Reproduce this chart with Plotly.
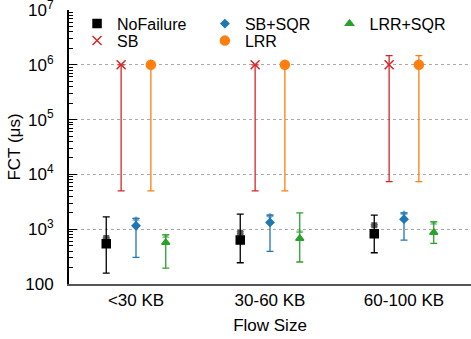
import plotly.graph_objects as go

categories = ["<30 KB", "30-60 KB", "60-100 KB"]
series_names = ["NoFailure", "SB", "SB+SQR", "LRR", "LRR+SQR"]

# median values (us)
nofailure_med = [542, 632, 824]
sb_med = [1.0e6, 1.0e6, 1.0e6]
sbsqr_med = [1153, 1330, 1527]
lrr_med = [1.0e6, 1.0e6, 1.0e6]
lrrsqr_med = [574, 679, 873]

# outer error bar low / high
nofailure_low = [158, 244, 372]
nofailure_high = [1683, 1884, 1807]
sb_low = [5000, 5000, 7400]
sb_high = [1.0e6, 1.0e6, 1.47e6]
sbsqr_low = [306, 394, 632]
sbsqr_high = [1573, 1807, 1990]
lrr_low = [5000, 5000, 7400]
lrr_high = [1.0e6, 1.0e6, 1.47e6]
lrrsqr_low = [195, 252, 551]
lrrsqr_high = [791, 1990, 1366]

# mean values with small confidence interval
nofailure_mean = [689, 860, 1180]
nofailure_mean_lo = [668, 824, 1137]
nofailure_mean_hi = [710, 897, 1222]
sbsqr_mean = [1510, 1750, 1940]
sbsqr_mean_lo = [1466, 1700, 1880]
sbsqr_mean_hi = [1573, 1807, 1990]
lrrsqr_mean = [750, 900, 1300]
lrrsqr_mean_lo = [709, 880, 1240]
lrrsqr_mean_hi = [791, 923, 1366]

y_tickvals = [100, 1e3, 1e4, 1e5, 1e6, 1e7]
y_ticktext = ["100", "10<sup>3</sup>", "10<sup>4</sup>", "10<sup>5</sup>", "10<sup>6</sup>", "10<sup>7</sup>"]
y_minor = [m * 10 ** e for e in range(2, 7) for m in range(2, 10)]

offsets = [-0.222, -0.111, 0.0, 0.111, 0.222]
colors = ["#000000", "#d62728", "#1f77b4", "#ff7f0e", "#2ca02c"]
symbols = ["square", "x-thin", "diamond", "circle", "triangle-up"]
sizes = [8, 9, 6, 9, 7]
mean_sizes = {0: 0, 2: 5, 4: 5}
legend_ids = ["legend", "legend2", "legend3", "legend4", "legend5"]
# legend placement (paper coords relative to plot area)
legend_x = [0.020, 0.020, 0.338, 0.338, 0.648]
legend_y = [0.950, 0.888, 0.950, 0.888, 0.950]

meds = [nofailure_med, sb_med, sbsqr_med, lrr_med, lrrsqr_med]
lows = [nofailure_low, sb_low, sbsqr_low, lrr_low, lrrsqr_low]
highs = [nofailure_high, sb_high, sbsqr_high, lrr_high, lrrsqr_high]
means = {0: (nofailure_mean, nofailure_mean_lo, nofailure_mean_hi),
         2: (sbsqr_mean, sbsqr_mean_lo, sbsqr_mean_hi),
         4: (lrrsqr_mean, lrrsqr_mean_lo, lrrsqr_mean_hi)}

fig = go.Figure()
for i, name in enumerate(series_names):
    xs = [k + offsets[i] for k in range(len(categories))]
    med, lo, hi = meds[i], lows[i], highs[i]
    fig.add_trace(go.Scatter(
        x=xs, y=med, mode="markers", name=name, legend=legend_ids[i],
        marker=dict(symbol=symbols[i], size=sizes[i], color=colors[i],
                    line=dict(color=colors[i], width=1.5)),
        error_y=dict(type="data", symmetric=False,
                     array=[h - m for h, m in zip(hi, med)],
                     arrayminus=[m - l for m, l in zip(med, lo)],
                     color=colors[i], thickness=1.3, width=3.5),
    ))
    if i in means:
        mv, mlo, mhi = means[i]
        fig.add_trace(go.Scatter(
            x=xs, y=mv, mode="markers", showlegend=False, opacity=0.65,
            marker=dict(symbol=symbols[i], size=mean_sizes[i], color=colors[i]),
            error_y=dict(type="data", symmetric=False,
                         array=[h - m for h, m in zip(mhi, mv)],
                         arrayminus=[m - l for m, l in zip(mv, mlo)],
                         color=colors[i], thickness=1, width=3.5),
        ))

# invisible helper trace so the minor-tick overlay axis is drawn
fig.add_trace(go.Scatter(x=[0], y=[y_tickvals[0]], yaxis="y2", mode="markers",
                         marker=dict(opacity=0, size=1), showlegend=False,
                         hoverinfo="skip"))

font_family = "Liberation Sans, Arial, sans-serif"
legends = {}
for i, lid in enumerate(legend_ids):
    legends[lid] = dict(x=legend_x[i], y=legend_y[i], xanchor="left", yanchor="middle",
                        bgcolor="rgba(0,0,0,0)", font=dict(size=16),
                        borderwidth=0, itemwidth=30)

yrange = [1.9999, 7.0003]
fig.update_layout(
    width=471, height=339,
    margin=dict(l=69, r=0, t=10, b=55),
    plot_bgcolor="white", paper_bgcolor="white",
    font=dict(family=font_family, size=17, color="black"),
    xaxis=dict(range=[-0.5, 2.5], tickvals=[0, 1, 2], ticktext=categories,
               showgrid=False, zeroline=False, ticks="", showline=True,
               linecolor="#555555", linewidth=2, automargin=False,
               tickfont=dict(size=17),
               title=dict(text="Flow Size", font=dict(size=17), standoff=10)),
    yaxis=dict(type="log", range=yrange, tickvals=y_tickvals, ticktext=y_ticktext,
               showgrid=True, gridcolor="#aaaaaa", griddash="dot", gridwidth=1,
               ticks="inside", ticklen=8, tickcolor="black", showline=True,
               linecolor="black", linewidth=2, zeroline=False, automargin=False,
               ticklabelstandoff=10, tickfont=dict(size=17), ticklabeloverflow="allow",
               title=dict(text="FCT (μs)", font=dict(size=17), standoff=0)),
    yaxis2=dict(type="log", range=yrange, overlaying="y", side="left", anchor="x",
                tickmode="array", tickvals=y_minor, ticks="inside", ticklen=4,
                tickcolor="black", showticklabels=False, showgrid=False,
                zeroline=False, showline=False, automargin=False),
    **legends,
)

fig.write_html("out.html", config={"displayModeBar": False},
               post_script="document.body.style.margin='0';document.body.style.padding='0';")
